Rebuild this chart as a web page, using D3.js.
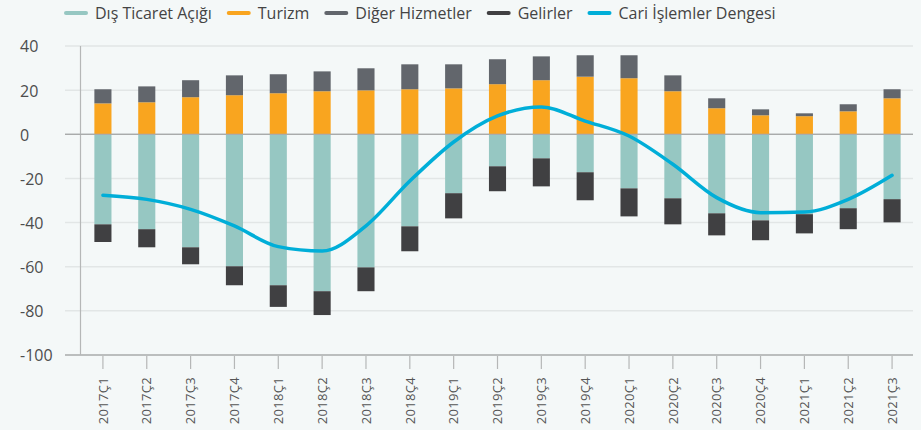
<!DOCTYPE html>
<html>
<head>
<meta charset="utf-8">
<script src="https://cdnjs.cloudflare.com/ajax/libs/d3/7.8.5/d3.min.js"></script>
<style>
  body { margin: 0; background: #f4f8f8; }
  svg { display: block; font-family: "Open Sans", sans-serif; }
</style>
</head>
<body>
<svg id="chart"></svg>
<script>
var quarters = ["2017Ç1","2017Ç2","2017Ç3","2017Ç4","2018Ç1","2018Ç2","2018Ç3","2018Ç4",
                "2019Ç1","2019Ç2","2019Ç3","2019Ç4","2020Ç1","2020Ç2","2020Ç3","2020Ç4",
                "2021Ç1","2021Ç2","2021Ç3"];

var disTicaret = [-40.8,-43.0,-51.2,-59.8,-68.4,-71.1,-60.3,-41.7,-26.7,-14.5,-10.9,-17.2,-24.5,-29.0,-35.8,-39.0,-36.2,-33.5,-29.4];
var turizm     = [14.0,14.5,16.8,17.7,18.6,19.5,19.9,20.4,20.8,22.7,24.5,26.1,25.4,19.5,11.8,8.6,8.2,10.4,16.3];
var digerHiz   = [6.4,7.2,7.7,9.0,8.6,9.0,10.0,11.3,10.9,11.3,10.8,9.7,10.4,7.2,4.5,2.7,1.3,3.2,4.1];
var gelirler   = [-8.0,-8.2,-7.7,-8.6,-9.8,-10.8,-10.8,-11.3,-11.4,-11.3,-12.7,-12.7,-12.7,-11.8,-10.0,-9.0,-8.7,-9.5,-10.5];
var cariDenge  = [-27.6,-29.5,-34.0,-41.5,-50.9,-52.9,-41.5,-21.2,-3.5,8.3,12.4,6.0,-0.8,-13.6,-28.7,-35.5,-35.2,-29.5,-18.6];

var yTicks = [40,20,0,-20,-40,-60,-80,-100];

var colors = {dis: "#96c7c2", tur: "#f9a51f", dig: "#62666c", gel: "#404042", cari: "#00aed8"};

var width = 921, height = 430;
var svg = d3.select("#chart").attr("width", width).attr("height", height);

var x = d3.scaleBand().domain(quarters).range([81, 914]).paddingInner(0.61).paddingOuter(0.305);
var y = d3.scaleLinear().domain([-100, 40]).range([355, 46]);

// grid
svg.append("g").selectAll("line")
    .data(yTicks)
    .enter().append("line")
    .attr("x1", 65).attr("x2", 913)
    .attr("y1", function(d) { return y(d); })
    .attr("y2", function(d) { return y(d); })
    .attr("stroke", function(d) { return (d === 0 || d === -100) ? "#a9abab" : "#e2e6e6"; })
    .attr("stroke-width", function(d) { return (d === 0 || d === -100) ? 1.3 : 1.5; });

// y axis line
svg.append("line")
    .attr("x1", 80.5).attr("x2", 80.5)
    .attr("y1", y(40)).attr("y2", y(-100))
    .attr("stroke", "#b5b7b7").attr("stroke-width", 1.2);

// y labels
svg.append("g").selectAll("text")
    .data(yTicks)
    .enter().append("text")
    .attr("x", 20)
    .attr("y", function(d) { return y(d); })
    .attr("dy", "0.4em")
    .attr("font-size", 16)
    .attr("fill", "#4d4d4d")
    .text(function(d) { return d; });

// stacked bars: negatives go down from 0, positives up from 0
var rows = quarters.map(function(q, i) {
  return {q: q, dis: disTicaret[i], tur: turizm[i], dig: digerHiz[i], gel: gelirler[i]};
});

var segs = [];
rows.forEach(function(r) {
  var pos = 0, neg = 0;
  ["dis", "gel", "tur", "dig"].forEach(function(k) {
    var v = r[k];
    if (v >= 0) { segs.push({q: r.q, k: k, y0: pos, y1: pos + v}); pos += v; }
    else { segs.push({q: r.q, k: k, y0: neg + v, y1: neg}); neg += v; }
  });
});

svg.append("g").selectAll("rect")
    .data(segs)
    .enter().append("rect")
    .attr("x", function(d) { return x(d.q); })
    .attr("width", x.bandwidth())
    .attr("y", function(d) { return y(d.y1); })
    .attr("height", function(d) { return y(d.y0) - y(d.y1); })
    .attr("fill", function(d) { return colors[d.k]; });

// redraw zero line on top of bars
svg.append("line")
    .attr("x1", 65).attr("x2", 913)
    .attr("y1", y(0)).attr("y2", y(0))
    .attr("stroke", "#a9abab").attr("stroke-width", 1.3);

// current account line
var line = d3.line()
    .x(function(d, i) { return x(quarters[i]) + x.bandwidth() / 2; })
    .y(function(d) { return y(d); })
    .curve(d3.curveMonotoneX);

svg.append("path")
    .datum(cariDenge)
    .attr("d", line)
    .attr("fill", "none")
    .attr("stroke", colors.cari)
    .attr("stroke-width", 3.5)
    .attr("stroke-linecap", "round")
    .attr("stroke-linejoin", "round");

// x ticks and labels
var xg = svg.append("g");
xg.selectAll("line")
    .data(quarters)
    .enter().append("line")
    .attr("x1", function(d) { return x(d) + x.bandwidth() / 2; })
    .attr("x2", function(d) { return x(d) + x.bandwidth() / 2; })
    .attr("y1", 356).attr("y2", 369)
    .attr("stroke", "#b5b7b7").attr("stroke-width", 1.2);

xg.selectAll("text")
    .data(quarters)
    .enter().append("text")
    .attr("transform", function(d) { return "translate(" + (x(d) + x.bandwidth() / 2) + ",377) rotate(-90)"; })
    .attr("text-anchor", "end")
    .attr("dy", "0.36em")
    .attr("font-size", 13)
    .attr("letter-spacing", 0.3)
    .attr("fill", "#555")
    .text(function(d) { return d; });

// legend
var legendItems = [
  {label: "Dış Ticaret Açığı", color: colors.dis},
  {label: "Turizm", color: colors.tur},
  {label: "Diğer Hizmetler", color: colors.dig},
  {label: "Gelirler", color: colors.gel},
  {label: "Cari İşlemler Dengesi", color: colors.cari}
];

var lx = 66;
var legend = svg.append("g");
legendItems.forEach(function(it) {
  legend.append("line")
      .attr("x1", lx).attr("x2", lx + 20)
      .attr("y1", 13).attr("y2", 13)
      .attr("stroke", it.color).attr("stroke-width", 4)
      .attr("stroke-linecap", "round");
  var t = legend.append("text")
      .attr("x", lx + 29).attr("y", 13)
      .attr("dy", "0.36em")
      .attr("font-size", 16)
      .attr("fill", "#444")
      .text(it.label);
  lx = lx + 29 + t.node().getComputedTextLength() + 17;
});
</script>
</body>
</html>
